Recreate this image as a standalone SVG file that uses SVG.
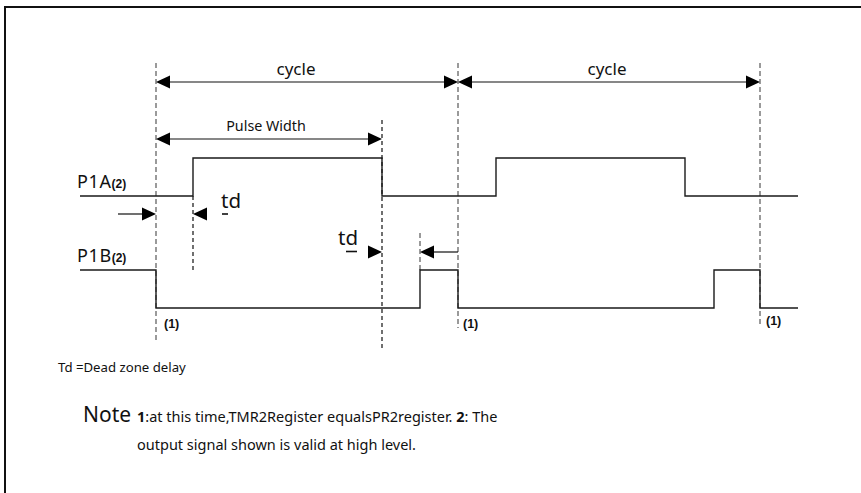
<svg xmlns="http://www.w3.org/2000/svg" width="861" height="493" viewBox="0 0 861 493">
<style>
.sig{fill:none;stroke:#1a1a1a;stroke-width:1.4}
.gd{stroke:#707070;stroke-width:1.4;stroke-dasharray:5,3;fill:none}
.bd{stroke:#111;stroke-width:1.2;stroke-dasharray:4,3;fill:none}
.ar{stroke:#111;stroke-width:1.2;fill:none}
.ah{fill:#000}
.t{font-family:"Noto Sans","Open Sans",sans-serif;fill:#111}
.b{font-family:"Liberation Sans",Arial,sans-serif;font-weight:bold;fill:#111}
</style>
<rect width="861" height="493" fill="#fff"/>
<path d="M5 493 V7 H861" fill="none" stroke="#111" stroke-width="2"/>
<g id="guides">
<line class="gd" x1="156" y1="63" x2="156" y2="342"/>
<line class="gd" x1="458" y1="63" x2="458" y2="328"/>
<line class="gd" x1="760" y1="63" x2="760" y2="327"/>
<line class="gd" x1="420" y1="233" x2="420" y2="270"/>
<line class="bd" x1="382" y1="120" x2="382" y2="350"/>
<line class="bd" x1="193" y1="196" x2="193" y2="270"/>
</g>
<g id="connectors">
<line class="ar" x1="170" y1="82" x2="444" y2="82"/>
<polygon class="ah" points="156,82 170,75.5 170,88.5"/>
<polygon class="ah" points="458,82 444,75.5 444,88.5"/>
<line class="ar" x1="472" y1="82" x2="746" y2="82"/>
<polygon class="ah" points="458,82 472,75.5 472,88.5"/>
<polygon class="ah" points="760,82 746,75.5 746,88.5"/>
<line class="ar" x1="170" y1="139" x2="368" y2="139"/>
<polygon class="ah" points="156,139 170,132.5 170,145.5"/>
<polygon class="ah" points="382,139 368,132.5 368,145.5"/>
<line class="ar" x1="118" y1="214" x2="142" y2="214"/>
<polygon class="ah" points="156,214 142,207.5 142,220.5"/>
<polygon class="ah" points="193,214 207,207.5 207,220.5"/>
<polygon class="ah" points="382,252 368,245.5 368,258.5"/>
<polygon class="ah" points="420,252 434,245.5 434,258.5"/>
<line class="ar" x1="434" y1="252" x2="458" y2="252"/>
</g>
<g id="P1A">
<path class="sig" d="M80 196 H193 V158 H382 V196 H496 V158 H685 V196 H798"/>
<text class="t" x="77" y="188" font-size="18" letter-spacing="0.6">P1A<tspan font-size="12" font-family="Liberation Sans,Arial,sans-serif" font-weight="bold" letter-spacing="0">(2)</tspan></text>
</g>
<g id="P1B">
<path class="sig" d="M80 270 H156 V308 H420 V270 H458 V308 H714 V270 H760 V308 H798"/>
<text class="t" x="77" y="262" font-size="18" letter-spacing="0.6">P1B<tspan font-size="12" font-family="Liberation Sans,Arial,sans-serif" font-weight="bold" letter-spacing="0">(2)</tspan></text>
</g>
<g id="labels">
<text class="t" x="296" y="75" font-size="17" text-anchor="middle">cycle</text>
<text class="t" x="607" y="75" font-size="17" text-anchor="middle">cycle</text>
<text class="t" x="266" y="131" font-size="14.3" text-anchor="middle">Pulse Width</text>
<text class="t" x="221" y="208" font-size="20.5">td</text>
<line x1="222" y1="214" x2="228" y2="214" stroke="#111" stroke-width="1.6"/>
<text class="t" x="338" y="245" font-size="20.5">td</text>
<line x1="346" y1="251.5" x2="357" y2="251.5" stroke="#111" stroke-width="1.6"/>
<text class="b" x="164" y="328" font-size="12.5">(1)</text>
<text class="b" x="463" y="328" font-size="12.5">(1)</text>
<text class="b" x="766" y="325" font-size="12.5">(1)</text>
<text class="t" x="58" y="372" font-size="13.2">Td =Dead zone delay</text>
<text class="t" x="83" y="422" font-size="21">Note</text>
<text class="t" x="137" y="422" font-size="14.5"><tspan font-weight="bold">1</tspan>:at this time,TMR2Register equalsPR2register. <tspan font-weight="bold">2</tspan>: The</text>
<text class="t" x="137" y="450" font-size="14.5">output signal shown is valid at high level.</text>
</g>
</svg>
